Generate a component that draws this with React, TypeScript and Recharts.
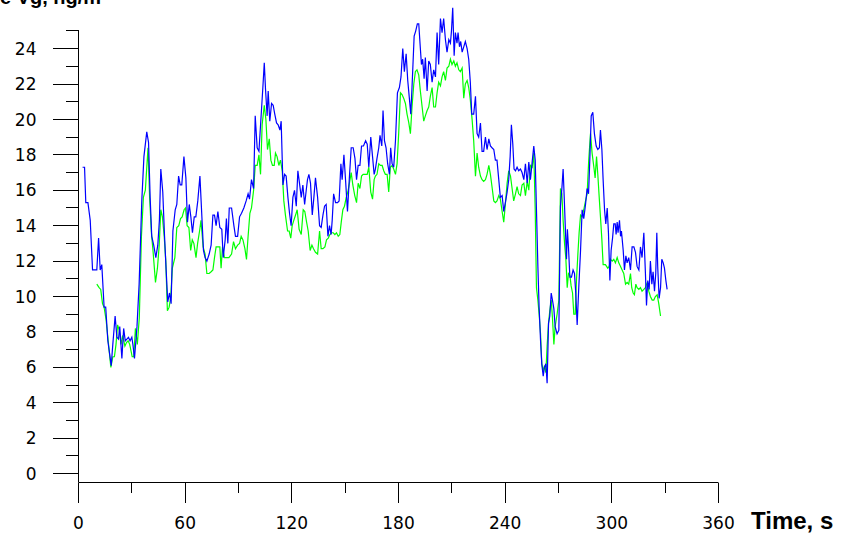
import { LineChart, Line, XAxis, YAxis, ReferenceLine } from "recharts";

// time, s and concentration for the blue series
const blueT = [
  2.3, 3.4, 4.1, 5.3, 6.6, 7.9, 9.0, 10.3, 11.3, 12.2, 13.1, 14.4, 15.3, 16.5, 18.4, 19.3, 20.6, 21.6, 22.5, 23.2,
  24.4, 25.4, 26.3, 27.2, 28.1, 29.0, 30.0, 30.6, 31.5, 32.9, 34.1, 35.6, 36.8, 38.4, 39.4, 40.3, 41.2, 42.3, 43.5, 44.6,
  45.5, 46.3, 47.4, 48.4, 49.3, 50.2, 51.2, 52.1, 53.1, 54.4, 55.3, 56.3, 57.2, 58.1, 59.3, 60.4, 61.3, 62.3, 63.2, 64.1,
  65.1, 66.0, 67.1, 68.3, 69.4, 70.3, 71.2, 72.2, 73.5, 74.6, 75.6, 76.5, 77.4, 78.4, 79.5, 80.6, 81.4, 82.5, 83.2, 84.0,
  84.8, 86.1, 87.4, 88.3, 89.5, 90.6, 91.7, 93.0, 94.3, 95.4, 96.2, 97.3, 98.5, 99.4, 100.5, 101.5, 102.6, 103.7, 104.5, 105.2,
  106.1, 106.7, 107.6, 108.6, 109.5, 110.4, 111.4, 112.3, 113.3, 114.0, 115.0, 115.9, 116.8, 117.8, 118.7, 119.6, 120.6, 121.5, 122.5, 123.4,
  124.3, 125.3, 126.2, 127.2, 128.1, 128.8, 129.6, 130.5, 131.5, 132.4, 133.3, 134.5, 135.6, 136.5, 137.5, 138.4, 139.3, 140.3, 141.2, 142.1,
  142.7, 143.5, 144.6, 145.7, 146.6, 147.6, 148.3, 149.3, 150.2, 151.3, 152.3, 153.4, 154.5, 155.5, 156.4, 157.3, 158.3, 159.2, 160.3, 161.5,
  162.4, 163.3, 164.4, 165.4, 166.3, 167.0, 167.9, 168.9, 169.6, 170.6, 171.3, 172.1, 173.0, 173.9, 174.9, 175.6, 176.4, 177.3, 178.3, 179.4,
  180.5, 181.4, 182.4, 183.3, 184.3, 185.2, 186.1, 186.9, 187.6, 188.8, 189.7, 190.6, 191.4, 192.1, 192.9, 193.6, 194.4, 195.1, 196.1, 197.0,
  197.9, 198.9, 199.8, 200.8, 201.7, 202.6, 203.6, 204.5, 205.4, 206.4, 207.3, 208.3, 209.2, 209.8, 210.5, 211.3, 212.0, 212.9, 213.5, 214.3,
  215.0, 215.8, 216.7, 217.6, 218.6, 219.5, 220.4, 221.2, 222.3, 223.3, 224.2, 225.1, 226.1, 227.0, 227.9, 228.9, 229.8, 230.8, 231.7, 232.6,
  233.6, 234.5, 235.4, 236.4, 237.3, 238.3, 239.2, 240.1, 241.1, 242.0, 242.8, 243.5, 244.3, 245.0, 245.8, 246.7, 247.6, 248.6, 249.5, 250.5,
  251.4, 252.4, 253.3, 254.2, 255.2, 256.1, 256.9, 257.6, 258.4, 259.1, 259.9, 260.6, 261.4, 262.1, 262.9, 263.6, 264.4, 265.1, 265.9, 266.6,
  267.4, 268.1, 269.2, 270.2, 271.1, 271.9, 272.6, 273.4, 274.1, 274.5, 275.0, 275.6, 276.4, 277.3, 278.2, 279.0, 279.7, 280.5, 281.4, 282.4,
  283.3, 284.2, 285.2, 286.1, 286.9, 287.6, 288.4, 289.3, 290.2, 291.2, 292.1, 293.0, 293.6, 294.4, 295.1, 295.9, 296.6, 297.4, 298.1, 298.9,
  299.6, 300.4, 301.1, 301.9, 302.4, 303.0, 303.5, 304.3, 304.9, 305.4, 306.4, 307.1, 307.9, 308.6, 309.5, 310.5, 311.4, 312.4, 313.3, 314.2,
  315.2, 316.1, 317.0, 318.0, 318.9, 319.5, 320.2, 321.0, 321.7, 322.5, 323.2, 324.0, 324.7, 325.3, 325.8, 326.6, 327.4, 328.1, 328.9, 329.6,
  330.4, 331.1,
];
const blueV = [
  17.3, 17.3, 15.3, 15.3, 14.3, 11.5, 11.5, 11.5, 13.3, 11.5, 11.8, 9.4, 9.4, 7.5, 6.1, 7.3, 8.9, 7.7, 7.6, 8.3,
  6.5, 8.2, 7.5, 7.6, 7.7, 7.5, 7.7, 7.3, 6.5, 8.3, 10.7, 15.4, 17.9, 19.3, 18.7, 15.6, 13.4, 12.9, 12.2, 12.9,
  14.3, 17.2, 15.9, 13.4, 11.5, 9.7, 10.2, 9.6, 13.7, 14.9, 15.2, 16.8, 16.3, 16.3, 17.9, 16.7, 14.2, 15.2, 14.5, 13.6,
  14.5, 14.5, 15.4, 16.8, 14.5, 12.6, 12.2, 12.0, 12.4, 12.9, 14.6, 14.6, 14.0, 14.8, 13.9, 13.8, 12.2, 13.2, 14.4, 13.0,
  15.0, 15.0, 14.0, 13.4, 13.4, 14.5, 14.7, 15.0, 15.4, 15.8, 15.5, 16.6, 16.1, 20.2, 18.4, 18.2, 20.0, 21.8, 23.2, 21.7,
  20.2, 21.6, 19.9, 20.9, 20.8, 20.3, 19.8, 19.7, 19.4, 19.9, 16.3, 16.9, 16.8, 15.6, 14.7, 14.0, 15.6, 16.0, 15.1, 17.1,
  16.4, 15.6, 16.3, 15.2, 16.0, 16.6, 16.9, 16.4, 14.6, 15.6, 16.7, 15.6, 14.0, 13.9, 14.6, 15.1, 15.2, 13.4, 14.0, 13.5,
  14.3, 15.8, 15.3, 15.3, 15.4, 17.5, 16.6, 18.0, 16.6, 14.8, 16.6, 18.4, 18.4, 17.8, 16.6, 17.4, 17.4, 18.5, 18.5, 18.8,
  18.6, 17.3, 19.0, 17.9, 16.9, 17.2, 17.8, 18.4, 19.1, 18.5, 20.5, 18.8, 18.4, 17.5, 16.9, 18.4, 17.5, 17.3, 18.8, 21.5,
  21.8, 22.4, 24.0, 22.7, 23.7, 22.2, 21.2, 20.3, 21.8, 24.7, 25.0, 25.4, 25.4, 24.3, 23.1, 23.4, 22.3, 23.5, 21.6, 23.3,
  23.1, 22.1, 22.8, 22.4, 24.9, 23.1, 25.7, 24.9, 25.7, 24.5, 23.8, 24.5, 24.3, 25.0, 26.3, 23.6, 24.9, 24.3, 24.9, 24.1,
  24.4, 23.8, 24.1, 24.4, 24.0, 23.4, 22.1, 20.3, 20.3, 21.3, 19.2, 19.0, 19.8, 18.2, 18.2, 19.0, 18.3, 18.9, 18.5, 18.4,
  18.3, 17.7, 17.7, 16.6, 15.6, 15.7, 14.8, 15.3, 15.9, 16.6, 17.9, 19.7, 18.6, 17.2, 17.1, 17.3, 17.1, 17.2, 17.0, 16.6,
  17.5, 16.4, 17.6, 16.6, 17.6, 18.5, 17.7, 14.9, 11.7, 9.4, 7.5, 6.2, 5.5, 6.0, 6.2, 5.1, 8.5, 8.9, 10.2, 9.8,
  9.3, 8.3, 7.9, 8.1, 15.1, 16.1, 17.2, 15.1, 13.2, 12.1, 13.8, 12.8, 11.1, 11.1, 11.5, 11.3, 10.2, 8.4, 10.5, 12.6,
  14.9, 14.4, 15.2, 16.1, 15.8, 17.7, 20.2, 20.4, 19.2, 18.5, 18.3, 18.4, 19.4, 18.3, 16.6, 14.9, 14.1, 15.0, 13.6, 10.9,
  12.6, 13.3, 14.1, 14.1, 13.5, 14.2, 13.6, 14.3, 13.4, 13.7, 12.6, 11.5, 12.3, 11.9, 12.2, 11.5, 12.8, 12.8, 12.5, 11.7,
  11.5, 12.8, 12.2, 13.6, 11.3, 9.5, 10.9, 10.4, 12.0, 10.7, 11.4, 10.3, 11.3, 13.6, 11.7, 9.9, 10.5, 12.1, 11.9, 11.6,
  10.9, 10.4,
];

// time, s and concentration for the green series
const greenT = [
  10.3, 11.6, 12.5, 13.5, 14.4, 15.5, 16.9, 18.2, 19.3, 20.2, 21.1, 22.0, 22.9, 23.9, 24.8, 26.1, 27.0, 27.9, 28.8, 30.2,
  31.1, 32.0, 33.1, 34.2, 35.4, 36.5, 37.6, 39.1, 40.0, 41.0, 41.9, 43.3, 44.4, 45.4, 46.3, 47.2, 48.2, 49.1, 50.0, 51.0,
  51.9, 52.8, 54.2, 55.3, 56.4, 57.4, 58.3, 59.4, 60.2, 61.1, 62.1, 63.1, 64.0, 64.9, 66.1, 67.0, 68.1, 68.9, 70.1, 71.2,
  72.2, 73.5, 74.6, 75.6, 76.5, 77.4, 78.4, 79.5, 80.2, 81.0, 82.1, 83.4, 84.6, 86.1, 87.2, 88.3, 89.5, 90.6, 91.5, 92.5,
  93.6, 94.5, 95.4, 96.4, 97.3, 98.5, 99.4, 100.5, 101.5, 102.4, 103.3, 104.5, 105.4, 106.3, 107.3, 108.2, 109.1, 110.1, 110.8, 111.7,
  112.7, 113.6, 114.6, 115.5, 116.4, 117.6, 118.5, 119.4, 120.2, 121.1, 122.1, 123.0, 124.1, 125.3, 126.4, 127.3, 128.3, 129.2, 130.3, 131.3,
  132.2, 133.3, 134.5, 135.6, 136.5, 137.5, 138.6, 139.5, 140.5, 141.4, 142.3, 143.3, 144.2, 145.1, 146.1, 147.0, 147.8, 148.7, 149.6, 150.6,
  151.5, 152.4, 153.4, 154.3, 155.4, 156.4, 157.3, 158.3, 159.2, 160.1, 161.5, 162.4, 163.3, 164.4, 165.4, 166.3, 167.0, 167.9, 168.9, 169.8,
  170.8, 171.7, 172.6, 173.6, 174.5, 175.4, 176.4, 177.3, 178.3, 179.2, 180.1, 181.1, 182.0, 182.9, 183.9, 184.8, 185.8, 186.7, 187.6, 188.6,
  189.5, 190.4, 191.4, 192.3, 193.3, 194.2, 195.1, 196.1, 197.0, 197.9, 198.9, 199.8, 200.8, 201.7, 202.6, 203.6, 204.5, 205.4, 206.4, 207.3,
  208.3, 209.2, 210.1, 211.1, 212.0, 212.9, 213.9, 214.8, 215.8, 216.7, 217.6, 218.6, 219.5, 220.4, 221.4, 222.3, 223.3, 224.2, 225.1, 226.1,
  227.0, 227.9, 228.9, 229.8, 230.8, 231.7, 232.6, 233.6, 234.5, 235.4, 236.4, 237.3, 238.3, 239.2, 240.1, 241.1, 242.0, 243.0, 243.9, 244.8,
  245.8, 246.7, 247.6, 248.6, 249.5, 250.5, 251.4, 252.4, 253.3, 254.2, 255.2, 256.1, 256.9, 257.6, 258.4, 259.1, 259.9, 260.6, 261.4, 262.1,
  262.9, 263.6, 264.4, 265.1, 265.9, 266.6, 267.4, 268.1, 269.2, 270.2, 271.1, 271.9, 272.6, 273.4, 274.1, 274.9, 275.6, 276.4, 277.1, 277.9,
  278.6, 279.4, 280.1, 280.9, 281.6, 282.4, 283.3, 284.2, 285.2, 286.1, 287.0, 288.0, 288.9, 289.9, 290.6, 291.4, 292.1, 292.9, 293.6, 294.4,
  295.1, 296.4, 297.7, 298.5, 299.2, 300.2, 301.1, 302.0, 303.0, 303.9, 304.9, 305.8, 306.7, 307.7, 308.6, 309.5, 310.5, 311.2, 312.0, 312.7,
  313.5, 314.2, 315.2, 316.1, 317.0, 318.0, 318.9, 319.9, 320.8, 321.7, 322.7, 323.6, 324.5, 325.5, 326.4, 327.4,
];
const greenV = [
  10.7, 10.5, 10.4, 9.6, 9.4, 8.7, 7.3, 6.0, 6.6, 6.6, 7.3, 8.4, 8.1, 7.3, 7.8, 7.2, 7.4, 7.5, 7.3, 6.6,
  6.6, 8.2, 7.3, 8.8, 13.4, 15.6, 16.0, 18.4, 15.6, 13.6, 12.6, 10.8, 11.6, 12.9, 14.9, 14.5, 13.4, 12.0, 9.2, 9.4,
  10.0, 11.6, 12.2, 13.9, 14.0, 14.4, 14.5, 14.9, 15.0, 14.0, 13.9, 12.6, 13.2, 13.0, 12.2, 13.0, 13.7, 14.3, 12.8, 12.4,
  11.3, 11.3, 11.4, 11.5, 12.2, 12.8, 12.8, 12.8, 11.6, 12.8, 12.2, 12.2, 12.2, 12.4, 13.1, 12.7, 12.9, 13.0, 13.4, 13.2,
  12.7, 12.1, 13.4, 14.7, 15.0, 16.0, 17.4, 17.4, 18.0, 16.9, 19.7, 20.8, 20.0, 18.3, 18.9, 17.7, 17.4, 17.4, 18.1, 17.9,
  17.4, 17.7, 17.1, 15.4, 14.6, 13.7, 13.7, 13.3, 14.0, 14.3, 14.6, 14.9, 13.8, 13.5, 14.9, 14.8, 14.2, 13.7, 12.6, 12.9,
  12.7, 12.5, 12.4, 13.7, 12.7, 12.7, 12.8, 13.2, 13.3, 13.5, 13.6, 13.6, 13.5, 13.6, 13.4, 13.5, 14.2, 14.9, 15.1, 15.6,
  15.9, 16.4, 17.0, 16.3, 15.7, 15.3, 16.4, 16.1, 16.8, 16.9, 16.9, 16.9, 17.3, 15.9, 15.5, 16.6, 16.8, 16.9, 17.5, 17.4,
  17.4, 17.1, 16.9, 16.9, 15.9, 17.3, 17.4, 17.2, 16.9, 17.5, 19.2, 21.5, 21.4, 21.2, 20.9, 20.3, 19.8, 19.2, 20.7, 22.0,
  22.7, 22.8, 22.5, 21.6, 20.7, 19.9, 20.2, 20.5, 20.7, 21.3, 21.8, 20.7, 20.7, 21.5, 22.1, 21.9, 22.4, 22.7, 22.2, 22.9,
  23.0, 23.4, 23.1, 23.3, 23.0, 23.2, 22.8, 22.7, 22.9, 21.2, 22.0, 22.2, 21.8, 21.1, 20.0, 18.8, 16.8, 18.1, 17.3, 16.8,
  16.6, 16.5, 16.6, 16.9, 17.4, 16.9, 16.2, 15.4, 15.3, 15.4, 15.7, 15.5, 14.8, 14.2, 15.2, 16.4, 17.1, 16.8, 16.1, 15.4,
  15.8, 16.2, 15.8, 15.7, 16.3, 16.4, 15.7, 16.5, 16.0, 17.4, 17.3, 18.1, 14.9, 10.5, 9.8, 9.0, 7.9, 6.2, 5.8, 6.1,
  5.7, 7.2, 8.5, 9.2, 9.8, 8.8, 7.3, 8.3, 9.0, 9.8, 16.1, 15.8, 14.3, 13.0, 12.2, 10.5, 11.3, 11.2, 10.6, 10.2,
  9.0, 9.0, 10.9, 12.4, 13.6, 14.6, 14.5, 14.9, 15.4, 15.8, 17.7, 19.2, 18.1, 17.3, 16.7, 17.9, 16.9, 15.6, 14.5, 13.2,
  11.8, 11.8, 11.6, 11.7, 12.1, 12.0, 12.1, 11.9, 12.2, 11.9, 11.7, 11.5, 11.3, 10.7, 10.8, 10.7, 11.3, 10.5, 10.2, 10.1,
  10.7, 10.5, 10.4, 10.5, 10.3, 10.4, 10.5, 10.8, 10.3, 10.0, 9.8, 9.8, 10.0, 10.1, 9.6, 8.9,
];

const xTicks = [0, 30, 60, 90, 120, 150, 180, 210, 240, 270, 300, 330, 360];
const yTicks = [0, 1, 2, 3, 4, 5, 6, 7, 8, 9, 10, 11, 12, 13, 14, 15, 16, 17, 18, 19, 20, 21, 22, 23, 24, 25];

const blueData = blueT.map((t, i) => ({ t, v: blueV[i] }));
const greenData = greenT.map((t, i) => ({ t, v: greenV[i] }));

const labelFont = "'DejaVu Sans', Verdana, sans-serif";

function XTick(props: any) {
  const { x, y, payload } = props;
  const major = payload.value % 60 === 0;
  return (
    <g>
      <line x1={x} x2={x} y1={y} y2={y + (major ? 20 : 10)} stroke="#000" shapeRendering="crispEdges" />
      {major && (
        <text x={x} y={y + 46} textAnchor="middle" fontFamily={labelFont} fontSize={17} fill="#000">
          {payload.value}
        </text>
      )}
    </g>
  );
}

function YTick(props: any) {
  const { x, y, payload } = props;
  const major = payload.value % 2 === 0;
  return (
    <g>
      <line x1={x - (major ? 26 : 13)} x2={x} y1={y} y2={y} stroke="#000" shapeRendering="crispEdges" />
      {major && (
        <text x={x - 42} y={y} dy="0.36em" textAnchor="end" fontFamily={labelFont} fontSize={17} fill="#000">
          {payload.value}
        </text>
      )}
    </g>
  );
}

export default function App() {
  return (
    <div style={{ position: "absolute", left: 0, top: 0, width: 841, height: 535, background: "#fff", overflow: "hidden" }}>
      <div
        style={{
          position: "absolute",
          left: 0,
          top: -14,
          fontFamily: "'Liberation Sans', Arial, sans-serif",
          fontWeight: "bold",
          fontSize: 20,
          whiteSpace: "nowrap",
        }}
      >
        e  Vg, ng/m³
      </div>
      <LineChart width={841} height={535} data={blueData} margin={{ top: 4.3, right: 122.5, bottom: 2.5, left: 0.5 }}>
        <XAxis
          dataKey="t"
          type="number"
          domain={[0, 360]}
          ticks={xTicks}
          interval={0}
          height={50}
          tickSize={0}
          tickMargin={0}
          tickLine={false}
          axisLine={{ stroke: "#000" }}
          tick={<XTick />}
        />
        <YAxis
          type="number"
          domain={[-0.5, 26.5]}
          ticks={yTicks}
          interval={0}
          width={78}
          tickSize={0}
          tickMargin={0}
          tickLine={false}
          axisLine={false}
          tick={<YTick />}
        />
        <ReferenceLine
          segment={[
            { x: 0, y: -0.5 },
            { x: 0, y: 25 },
          ]}
          stroke="#000"
        />
        <Line
          data={greenData}
          dataKey="v"
          type="linear"
          stroke="#00ff00"
          strokeWidth={1.2}
          dot={false}
          isAnimationActive={false}
        />
        <Line
          data={blueData}
          dataKey="v"
          type="linear"
          stroke="#0000ff"
          strokeWidth={1.2}
          dot={false}
          isAnimationActive={false}
        />
      </LineChart>
      <div
        style={{
          position: "absolute",
          left: 751,
          top: 507,
          fontFamily: "'Liberation Sans', Arial, sans-serif",
          fontWeight: "bold",
          fontSize: 24,
          whiteSpace: "nowrap",
          lineHeight: "28px",
        }}
      >
        Time, s
      </div>
    </div>
  );
}
